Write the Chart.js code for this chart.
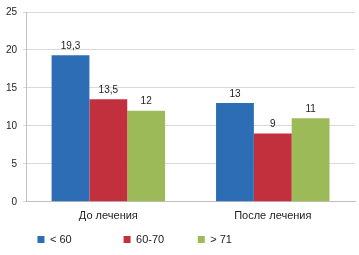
<!DOCTYPE html>
<html>
<head>
<meta charset="utf-8">
<script src="https://cdn.jsdelivr.net/npm/chart.js@4/dist/chart.umd.min.js"></script>
<style>
html,body{margin:0;padding:0;background:#fff;}
#wrap{width:359px;height:255px;position:relative;}
</style>
</head>
<body>
<div id="wrap"><canvas id="c"></canvas></div>
<script>
const categories = ['До лечения', 'После лечения'];
const seriesNames = ['< 60', '60-70', '> 71'];
const under60 = [19.3, 13];
const from60to70 = [13.5, 9];
const over71 = [12, 11];
const colors = ['#2D6DB5', '#C3303D', '#9CBA58'];
const legendTrail = [16, 10, 28];
const FONT = '"Liberation Sans", Arial, sans-serif';

const valueLabels = {
  id: 'valueLabels',
  afterDatasetsDraw(chart) {
    const ctx = chart.ctx;
    ctx.save();
    ctx.font = '10px ' + FONT;
    ctx.fillStyle = '#222';
    ctx.textAlign = 'center';
    ctx.textBaseline = 'bottom';
    chart.data.datasets.forEach((ds, i) => {
      const meta = chart.getDatasetMeta(i);
      meta.data.forEach((bar, j) => {
        ctx.fillText(String(ds.data[j]).replace('.', ','), bar.x, bar.y - 4);
      });
    });
    ctx.restore();
  }
};

new Chart(document.getElementById('c'), {
  type: 'bar',
  data: {
    labels: categories,
    datasets: [
      { label: seriesNames[0], data: under60, backgroundColor: colors[0] },
      { label: seriesNames[1], data: from60to70, backgroundColor: colors[1] },
      { label: seriesNames[2], data: over71, backgroundColor: colors[2] }
    ]
  },
  options: {
    responsive: true,
    maintainAspectRatio: false,
    animation: false,
    devicePixelRatio: 1,
    layout: { padding: { top: 0, right: 4, left: 0, bottom: 0 } },
    datasets: { bar: { categoryPercentage: 0.69, barPercentage: 1.0 } },
    plugins: {
      legend: {
        position: 'bottom',
        padding: { top: 0, bottom: 8 },
        labels: {
          boxWidth: 7, boxHeight: 7, padding: 3,
          color: '#222',
          font: { size: 11, family: FONT },
          generateLabels(chart) {
            const items = Chart.defaults.plugins.legend.labels.generateLabels(chart);
            items.forEach((it, i) => { it.text = it.text + ' '.repeat(legendTrail[i]); it.lineWidth = 0; });
            return items;
          }
        }
      },
      tooltip: { enabled: false }
    },
    scales: {
      x: {
        grid: { display: false, drawTicks: false },
        border: { display: true, color: '#bfbfbf' },
        ticks: { color: '#222', padding: 8, font: { size: 11, family: FONT } }
      },
      y: {
        min: 0, max: 25,
        ticks: { stepSize: 5, color: '#222', padding: 6, font: { size: 10, family: FONT } },
        grid: { color: '#d9d9d9', tickLength: 3 },
        border: { display: true, color: '#bfbfbf' }
      }
    }
  },
  plugins: [valueLabels]
});
</script>
</body>
</html>
